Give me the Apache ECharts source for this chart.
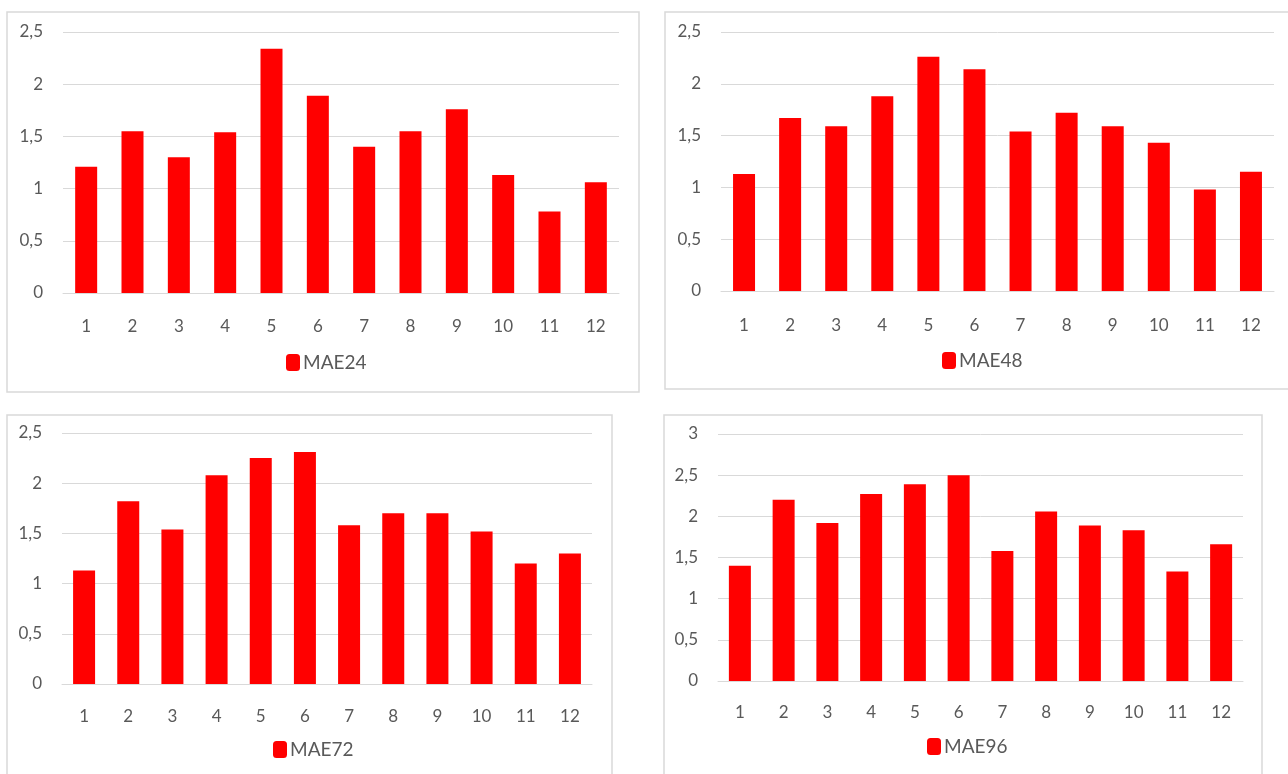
<!DOCTYPE html>
<html>
<head>
<meta charset="utf-8">
<title>MAE by month</title>
<script src="https://cdn.jsdelivr.net/npm/echarts@6/dist/echarts.min.js"></script>
<style>
  html, body { margin: 0; padding: 0; background: #ffffff; }
  #chart { width: 1288px; height: 774px; }
</style>
</head>
<body>
<div id="chart"></div>
<script>
// Months on the category axis
const months = ['1', '2', '3', '4', '5', '6', '7', '8', '9', '10', '11', '12'];

// Mean absolute error per month for each forecast horizon
const mae24 = [1.21, 1.55, 1.30, 1.54, 2.34, 1.89, 1.40, 1.55, 1.76, 1.13, 0.78, 1.06];
const mae48 = [1.13, 1.67, 1.59, 1.88, 2.26, 2.14, 1.54, 1.72, 1.59, 1.43, 0.98, 1.15];
const mae72 = [1.13, 1.82, 1.54, 2.08, 2.25, 2.31, 1.58, 1.70, 1.70, 1.52, 1.20, 1.30];
const mae96 = [1.40, 2.20, 1.92, 2.27, 2.39, 2.50, 1.58, 2.06, 1.89, 1.83, 1.33, 1.66];

const seriesNames = ['MAE24', 'MAE48', 'MAE72', 'MAE96'];
const seriesData = [mae24, mae48, mae72, mae96];
const axisMax = [2.5, 2.5, 2.5, 3];

// Panel layout: frame box, plot area, legend placement
const panels = [
  { box: [7, 12, 632, 380], grid: { left: 63, top: 32, width: 556, height: 261 }, xMargin: 25, legend: { left: 281, top: 348 } },
  { box: [665, 12, 640, 377], grid: { left: 721, top: 32, width: 553, height: 259 }, xMargin: 26, legend: { left: 937, top: 346 } },
  { box: [7, 415, 605, 380], grid: { left: 62, top: 433, width: 530, height: 251 }, xMargin: 24, legend: { left: 268, top: 735 } },
  { box: [664, 415, 598, 380], grid: { left: 718, top: 434, width: 525, height: 247 }, xMargin: 23, legend: { left: 922, top: 732 } }
];

const FONT = 'Lato, "Liberation Sans", sans-serif';
const TEXT = '#595959';
const GRID_LINE = '#d9d9d9';

const fmt = v => String(v).replace('.', ',');

const option = {
  backgroundColor: '#ffffff',
  animation: false,
  textStyle: { fontFamily: FONT },
  graphic: panels.map(p => ({
    type: 'rect',
    silent: true,
    z: -10,
    shape: { x: p.box[0], y: p.box[1], width: p.box[2], height: p.box[3] },
    style: { fill: '#ffffff', stroke: '#d9d9d9', lineWidth: 1.5 }
  })),
  grid: panels.map(p => Object.assign({ containLabel: false }, p.grid)),
  legend: panels.map((p, i) => ({
    data: [seriesNames[i]],
    left: p.legend.left,
    top: p.legend.top,
    itemWidth: 14,
    itemHeight: 17,
    itemGap: 10,
    icon: 'roundRect',
    textStyle: { fontFamily: FONT, fontSize: 19, color: TEXT, padding: [0, 0, 0, -2] }
  })),
  xAxis: panels.map((p, i) => ({
    type: 'category',
    gridIndex: i,
    data: months,
    axisLine: { show: true, lineStyle: { color: GRID_LINE, width: 1 } },
    axisTick: { show: false },
    axisLabel: { color: TEXT, fontSize: 17, fontFamily: FONT, margin: p.xMargin }
  })),
  yAxis: panels.map((p, i) => ({
    type: 'value',
    gridIndex: i,
    min: 0,
    max: axisMax[i],
    interval: 0.5,
    axisLine: { show: false },
    axisTick: { show: false },
    splitLine: { show: true, lineStyle: { color: GRID_LINE, width: 1 } },
    axisLabel: { color: TEXT, fontSize: 17, fontFamily: FONT, margin: 20, formatter: fmt }
  })),
  series: seriesData.map((d, i) => ({
    name: seriesNames[i],
    type: 'bar',
    xAxisIndex: i,
    yAxisIndex: i,
    data: d,
    barWidth: 22,
    itemStyle: { color: '#ff0000' }
  }))
};

const chart = echarts.init(document.getElementById('chart'), null, { renderer: 'canvas' });
chart.setOption(option);
</script>
</body>
</html>
